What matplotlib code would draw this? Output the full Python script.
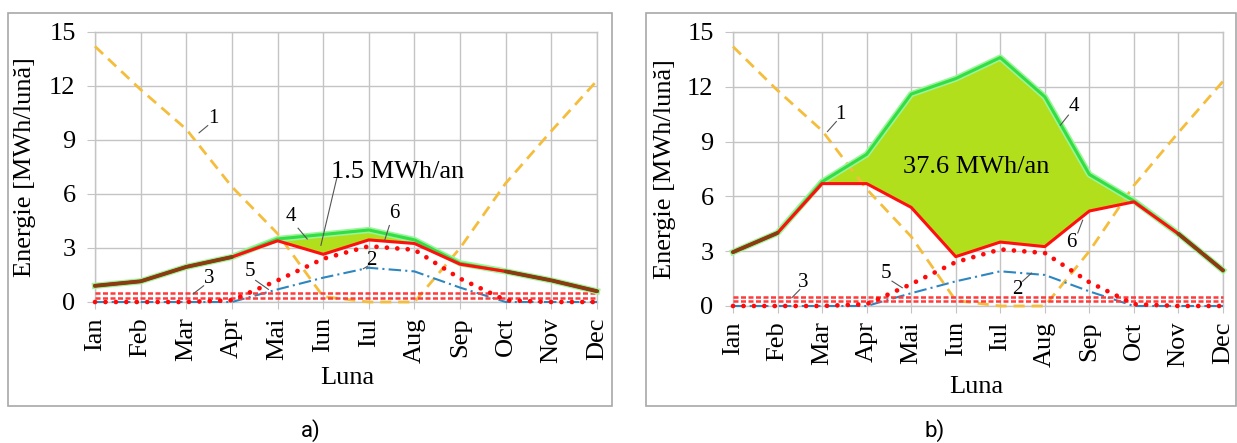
import numpy as np
import matplotlib
matplotlib.use("Agg")
import matplotlib.pyplot as plt
from matplotlib.patches import Rectangle

plt.rcParams['font.family'] = ['Liberation Serif', 'DejaVu Serif']

luni = ['Ian', 'Feb', 'Mar', 'Apr', 'Mai', 'Iun', 'Iul', 'Aug', 'Sep', 'Oct', 'Nov', 'Dec']

# 1 - heating demand (same in both panels)
s1 = [14.2, 11.8, 9.6, 6.4, 3.8, 0.3, 0.0, 0.0, 3.0, 6.6, 9.5, 12.3]
# 2 - blue dash-dot
s2 = [0.0, 0.0, 0.0, 0.0, 0.7, 1.35, 1.9, 1.7, 0.8, 0.0, 0.0, 0.0]
# 3 - constant (double dashed line)
s3 = [0.4] * 12
# 5 - red dotted
s5 = [0.0, 0.0, 0.0, 0.1, 1.2, 2.4, 3.1, 2.9, 1.3, 0.1, 0.0, 0.0]

# panel a
a4 = [0.9, 1.15, 1.95, 2.5, 3.5, 3.75, 4.0, 3.45, 2.15, 1.7, 1.2, 0.6]
a6 = [0.9, 1.15, 1.95, 2.5, 3.4, 2.65, 3.45, 3.25, 2.1, 1.7, 1.2, 0.6]
# panel b
b4 = [2.95, 4.0, 6.8, 8.3, 11.6, 12.45, 13.6, 11.45, 7.2, 5.75, 3.95, 1.95]
b6 = [2.95, 4.0, 6.7, 6.7, 5.4, 2.7, 3.5, 3.25, 5.2, 5.7, 3.95, 1.95]

W, H = 1237, 443
fig = plt.figure(figsize=(W / 100, H / 100), dpi=100)

FS = 19
GRID = '#c4c4c4'


def px_axes(x0, x1, y0, y1):
    return fig.add_axes([x0 / W, 1 - y1 / H, (x1 - x0) / W, (y1 - y0) / H])


def frame(x0, x1, y0, y1):
    fig.add_artist(Rectangle((x0 / W, 1 - y1 / H), (x1 - x0) / W, (y1 - y0) / H,
                             transform=fig.transFigure, fill=False,
                             edgecolor='#a8a8a8', lw=1.2))


def leader(ax, x0, y0, x1, y1):
    ax.plot([x0, x1], [y0, y1], color='#555555', lw=0.8, zorder=6, clip_on=False)


def panel(ax, s4, s6):
    x = np.arange(12)
    s4 = np.array(s4)
    s6 = np.array(s6)
    ax.fill_between(x, s6, s4, where=s4 >= s6, color='#b2df1c', lw=0, zorder=2)
    ax.plot(x, s1, color='#f5bd3c', lw=2, dashes=(4, 2.5), zorder=3, clip_on=False)
    ax.plot(x, s2, color='#2d86c0', lw=1.5, dashes=(6, 2, 1, 2), zorder=4, clip_on=False)
    s3a = np.array(s3)
    ax.plot(x, s3a + 0.1, color='#ff3b3b', lw=1.8, dashes=(2, 1), zorder=4, clip_on=False)
    ax.plot(x, s3a - 0.15, color='#ff3b3b', lw=1.8, dashes=(2, 1), zorder=4, clip_on=False)
    ax.plot(x, s5, color='#ff0a0a', lw=3.4, linestyle=(0, (0.01, 2.2)),
            dash_capstyle='round', zorder=4, clip_on=False)
    ax.plot(x, s4, color='#9af59a', lw=4.5, zorder=5, clip_on=False)
    ax.plot(x, s4, color='#33dd44', lw=2.2, zorder=5, clip_on=False)
    ax.plot(x, s6, color='#ff1010', lw=2.2, zorder=5, clip_on=False)
    same = np.isclose(s4, s6)
    ax.plot(x, np.where(same, s6, np.nan), color='#8c3a12', lw=2.8, zorder=5,
            solid_capstyle='round', clip_on=False)

    ax.set_xlim(0, 11)
    ax.set_ylim(0, 15)
    ax.set_xticks(x)
    ax.set_xticklabels(luni, rotation=90, fontsize=FS)
    ax.set_yticks(np.arange(0, 16, 3))
    ax.tick_params(axis='y', labelsize=FS, length=6, color=GRID, pad=8)
    ax.tick_params(axis='x', length=5, color=GRID, pad=6)
    ax.grid(True, color=GRID, lw=1, zorder=0)
    ax.set_axisbelow(True)
    for sp in ax.spines.values():
        sp.set_color(GRID)
        sp.set_linewidth(1)
    ax.set_ylabel('Energie [MWh/lună]', fontsize=FS, va='center')
    ax.set_xlabel('Luna', fontsize=FS, va='center')
    ax.yaxis.set_label_coords(-0.139, 0.5)


# ---- panel a ----
frame(8, 612, 13, 406)
ax1 = px_axes(95, 597, 32, 302)
panel(ax1, a4, a6)
ax1.xaxis.set_label_coords(0.502, -0.28)
ax1.text(6.63, 7.2, '1.5 MWh/an', fontsize=FS, ha='center', va='center', zorder=7)
leader(ax1, 5.3, 6.9, 4.95, 3.15)
ax1.text(4.3, 4.75, '4', fontsize=15, ha='center', va='center')
leader(ax1, 4.45, 4.1, 4.65, 3.5)
ax1.text(6.55, 4.9, '6', fontsize=15, ha='center', va='center')
leader(ax1, 6.45, 4.25, 6.35, 3.45)
ax1.text(3.4, 1.7, '5', fontsize=15, ha='center', va='center')
leader(ax1, 3.52, 1.2, 3.8, 0.7)
ax1.text(6.05, 2.3, '2', fontsize=15, ha='center', va='center')
leader(ax1, 5.98, 2.0, 5.88, 1.85)
ax1.text(2.5, 1.3, '3', fontsize=15, ha='center', va='center')
leader(ax1, 2.38, 0.9, 2.15, 0.45)
ax1.text(2.6, 10.2, '1', fontsize=15, ha='center', va='center')
leader(ax1, 2.47, 9.8, 2.28, 9.4)

# ---- panel b ----
frame(646, 1236, 13, 406)
ax2 = px_axes(733, 1223, 32, 306)
panel(ax2, b4, b6)
ax2.xaxis.set_label_coords(0.496, -0.296)
ax2.text(5.46, 7.6, '37.6 MWh/an', fontsize=FS, ha='center', va='center', zorder=7)
ax2.text(7.66, 10.9, '4', fontsize=15, ha='center', va='center')
leader(ax2, 7.53, 10.45, 7.35, 9.9)
ax2.text(7.6, 3.45, '6', fontsize=15, ha='center', va='center')
leader(ax2, 7.74, 4.0, 7.85, 4.7)
ax2.text(3.43, 1.8, '5', fontsize=15, ha='center', va='center')
leader(ax2, 3.57, 1.36, 3.8, 1.0)
ax2.text(6.38, 0.9, '2', fontsize=15, ha='center', va='center')
leader(ax2, 6.5, 1.35, 6.7, 1.8)
ax2.text(1.58, 1.3, '3', fontsize=15, ha='center', va='center')
leader(ax2, 1.5, 0.9, 1.32, 0.45)
ax2.text(2.42, 10.5, '1', fontsize=15, ha='center', va='center')
leader(ax2, 2.32, 10.1, 2.12, 9.55)

fig.text(311 / W, 1 - 431 / H, 'a)', fontsize=16, family=['Roboto', 'DejaVu Sans'],
         ha='center', va='center')
fig.text(935 / W, 1 - 431 / H, 'b)', fontsize=16, family=['Roboto', 'DejaVu Sans'],
         ha='center', va='center')

fig.savefig('out.png', dpi=100)
